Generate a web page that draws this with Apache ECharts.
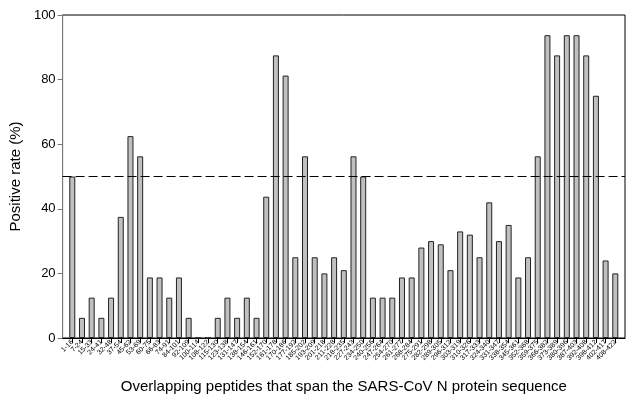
<!DOCTYPE html>
<html>
<head>
<meta charset="utf-8">
<script src="https://cdn.jsdelivr.net/npm/echarts@6/dist/echarts.min.js"></script>
<style>html,body{margin:0;padding:0;background:#fff}#c{width:632px;height:403px}</style>
</head>
<body>
<div id="c"></div>
<script>
const categories = ["1-16","7-24","15-33","24-41","32-48","37-54","45-62","53-69","60-75","66-83",
"74-91","84-101","92-109","100-114","108-122","115-130","123-138","131-147","138-154","146-161",
"152-170","161-178","170-186","177-192","185-202","193-209","201-218","211-228","218-235","227-243",
"234-250","240-256","247-264","254-270","261-277","268-284","275-291","282-298","289-305","296-312",
"303-319","310-326","317-333","324-340","331-347","338-354","345-361","352-368","359-375","366-382",
"373-389","380-396","387-403","392-408","398-412","402-417","408-422"];
const values = [50,6.25,12.5,6.25,12.5,37.5,62.5,56.25,18.75,18.75,
12.5,18.75,6.25,0,0,6.25,12.5,6.25,12.5,6.25,
43.75,87.5,81.25,25,56.25,25,20,25,21,56.25,
50,12.5,12.5,12.5,18.75,18.75,28,30,29,21,
33,32,25,42,30,35,18.75,25,56.25,93.75,
87.5,93.75,93.75,87.5,75,24,20];
const yTicks = [0,20,40,60,80,100];
const threshold = 50;

const idx = categories.map((_, i) => i);
const chart = echarts.init(document.getElementById('c'), null, {renderer:'canvas'});
chart.setOption({
  animation:false,
  textStyle:{fontFamily:'Liberation Sans'},
  grid:{left:58, right:7, top:15, bottom:65, show:true, borderColor:'#000', borderWidth:1, backgroundColor:'transparent'},
  xAxis:{
    type:'value', min:-1, max:categories.length, interval:1,
    splitLine:{show:false},
    axisLine:{show:true, onZero:false, lineStyle:{color:'#000', width:1}},
    axisTick:{show:true, customValues: idx, length:5, lineStyle:{color:'#000'}},
    axisLabel:{customValues: idx, rotate:45, fontSize:7, color:'#000', margin:3,
      hideOverlap:false, showMinLabel:true, showMaxLabel:true,
      formatter: v => categories[v] !== undefined ? categories[v] : ''},
    name:'Overlapping peptides that span the SARS-CoV N protein sequence',
    nameLocation:'middle', nameGap:41,
    nameTextStyle:{fontSize:15, color:'#000', fontFamily:'Liberation Sans'}
  },
  yAxis:{
    type:'value', min:yTicks[0], max:yTicks[yTicks.length-1], interval:20,
    splitLine:{show:false},
    axisLine:{show:true, onZero:false, lineStyle:{color:'#777'}},
    axisTick:{show:true, inside:false, length:5, lineStyle:{color:'#777'}},
    axisLabel:{fontSize:13, color:'#000', margin:7},
    name:'Positive rate (%)', nameLocation:'middle', nameGap:36,
    nameTextStyle:{fontSize:15, color:'#000', fontFamily:'Liberation Sans'}
  },
  series:[{
    type:'bar',
    data: values.map((v,i)=>[i,v]),
    barWidth:6,
    itemStyle:{color:'#c0c0c0', borderColor:'#222', borderWidth:1},
    markLine:{
      silent:true, symbol:'none', label:{show:false},
      lineStyle:{color:'#000', type:[9,4], width:1},
      data:[{yAxis:threshold}]
    }
  }]
});
</script>
</body>
</html>
